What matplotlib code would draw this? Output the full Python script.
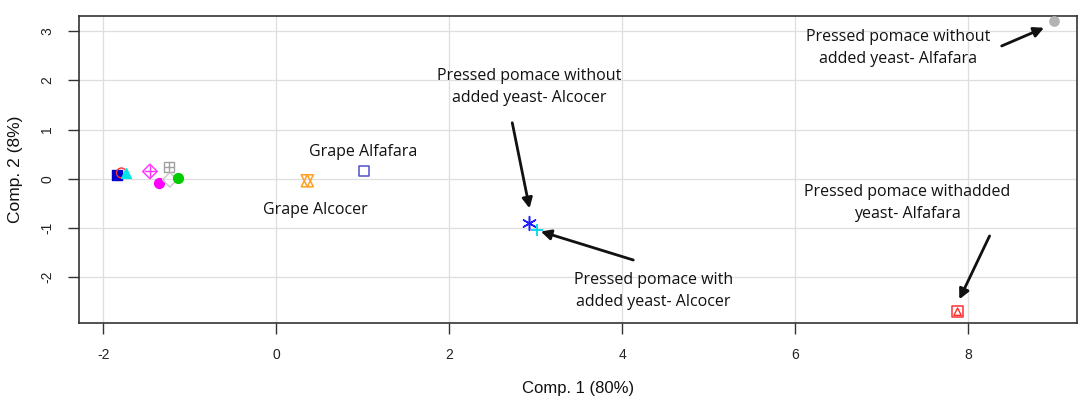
import matplotlib
matplotlib.use("Agg")
import matplotlib.pyplot as plt

# PCA scores of the samples (Comp. 1, Comp. 2)
cluster_x = [-1.84, -1.79, -1.74, -1.61, -1.46, -1.36, -1.24, -1.23, -1.14]
cluster_y = [0.08, 0.12, 0.12, 0.12, 0.15, -0.08, 0.24, -0.02, 0.01]
cluster_marker = ["s", "o", "^", "x", "D", "o", "s", "D", "o"]
cluster_color = ["#0000cc", "#ff3030", "#00e5e5", "#ffb060", "#ff30ff", "#ff00ff", "#a0a0a0", "#c8c8c8", "#00cc00"]
cluster_fill = [True, False, True, False, False, True, False, False, True]

grape_alfafara = (1.02, 0.16)
grape_alcocer = (0.36, -0.04)
pomace_noyeast_alcocer = (2.92, -0.89)
pomace_yeast_alcocer = (3.02, -1.04)
pomace_noyeast_alfafara = (8.99, 3.21)
pomace_yeast_alfafara = (7.88, -2.70)

xticks = [-2, 0, 2, 4, 6, 8]
yticks = [-2, -1, 0, 1, 2, 3]

fig = plt.figure(figsize=(10.78, 3.99), dpi=100)
ax = fig.add_axes([0.0733, 0.1905, 0.9257, 0.7695])
ax.set_xlim(-2.28, 9.26)
ax.set_ylim(-2.93, 3.31)

for v in xticks:
    ax.axvline(v, color="#dedede", lw=0.9, zorder=0)
for v in yticks:
    ax.axhline(v, color="#dedede", lw=0.9, zorder=0)

for x, y, m, c, f in zip(cluster_x, cluster_y, cluster_marker, cluster_color, cluster_fill):
    ax.scatter([x], [y], marker=m, s=50 if m != "D" else 55,
               facecolors=c if f else "none", edgecolors=c,
               linewidths=1.0, zorder=3)
# plus overlays for cross-marked symbols
ax.scatter([cluster_x[4]], [cluster_y[4]], marker="+", s=70, color="#ff30ff", lw=1.0, zorder=3)
ax.scatter([cluster_x[6]], [cluster_y[6]], marker="+", s=50, color="#a0a0a0", lw=1.0, zorder=3)

# grape samples
ax.scatter([grape_alfafara[0]], [grape_alfafara[1]], marker="s", s=50,
           facecolors="none", edgecolors="#5050d0", lw=1.1, zorder=3)
ax.scatter([grape_alcocer[0]], [grape_alcocer[1]], marker="^", s=75,
           facecolors="none", edgecolors="#ffa020", lw=1.1, zorder=3)
ax.scatter([grape_alcocer[0]], [grape_alcocer[1]], marker="v", s=75,
           facecolors="none", edgecolors="#ffa020", lw=1.1, zorder=3)

# pressed pomace samples
ax.scatter([pomace_noyeast_alcocer[0]], [pomace_noyeast_alcocer[1]], marker=(6, 2, 0), s=100,
           color="#2020ff", lw=1.1, zorder=3)
ax.scatter([pomace_yeast_alcocer[0]], [pomace_yeast_alcocer[1]], marker="+", s=75,
           color="#00d8e8", lw=1.3, zorder=3)
ax.scatter([pomace_noyeast_alfafara[0]], [pomace_noyeast_alfafara[1]], marker="o", s=45,
           color="#b4b4b4", zorder=3)
ax.scatter([pomace_yeast_alfafara[0]], [pomace_yeast_alfafara[1]], marker="s", s=60,
           facecolors="none", edgecolors="#ff3030", lw=1.1, zorder=3)
ax.scatter([pomace_yeast_alfafara[0]], [pomace_yeast_alfafara[1]], marker="^", s=28,
           facecolors="none", edgecolors="#ff3030", lw=1.0, zorder=3)

afont = dict(family=["Open Sans", "DejaVu Sans"], fontsize=11.5, color="#111111",
             linespacing=1.45)
ax.text(1.0, 0.38, "Grape Alfafara", ha="center", va="bottom", **afont)
ax.text(0.45, -0.48, "Grape Alcocer", ha="center", va="top", **afont)

arrow = dict(arrowstyle="-|>,head_length=0.6,head_width=0.3", color="#111111", lw=2.0,
             shrinkA=0, shrinkB=0)

ax.text(7.19, 2.66, "Pressed pomace without\nadded yeast- Alfafara", ha="center", va="center", **afont)
ax.annotate("", xy=(8.88, 3.07), xytext=(8.39, 2.70), arrowprops=arrow)

ax.text(2.93, 1.87, "Pressed pomace without\nadded yeast- Alcocer", ha="center", va="center", **afont)
ax.annotate("", xy=(2.93, -0.6), xytext=(2.73, 1.14), arrowprops=arrow)

ax.text(4.36, -2.28, "Pressed pomace with\nadded yeast- Alcocer", ha="center", va="center", **afont)
ax.annotate("", xy=(3.06, -1.07), xytext=(4.13, -1.65), arrowprops=arrow)

ax.text(7.3, -0.49, "Pressed pomace withadded\nyeast- Alfafara", ha="center", va="center", **afont)
ax.annotate("", xy=(7.9, -2.45), xytext=(8.25, -1.16), arrowprops=arrow)

for s in ax.spines.values():
    s.set_color("#333333")
    s.set_linewidth(1.2)

ax.set_xticks(xticks)
ax.set_yticks(yticks)
ax.tick_params(axis="both", direction="out", length=8, width=1.0, color="#333333",
               labelsize=10, labelcolor="#222222", pad=10)
ax.set_yticklabels([str(v) for v in yticks], rotation=90, va="center",
                   family=["Liberation Sans", "DejaVu Sans"])
ax.set_xticklabels([str(v) for v in xticks], family=["Liberation Sans", "DejaVu Sans"])
ax.set_xlabel("Comp. 1 (80%)", fontsize=12, family=["Liberation Sans", "DejaVu Sans"],
              color="#111111", labelpad=14)
ax.set_ylabel("Comp. 2 (8%)", fontsize=12.5, family=["Liberation Sans", "DejaVu Sans"],
              color="#111111", labelpad=12)

fig.savefig("out.png", dpi=100)
